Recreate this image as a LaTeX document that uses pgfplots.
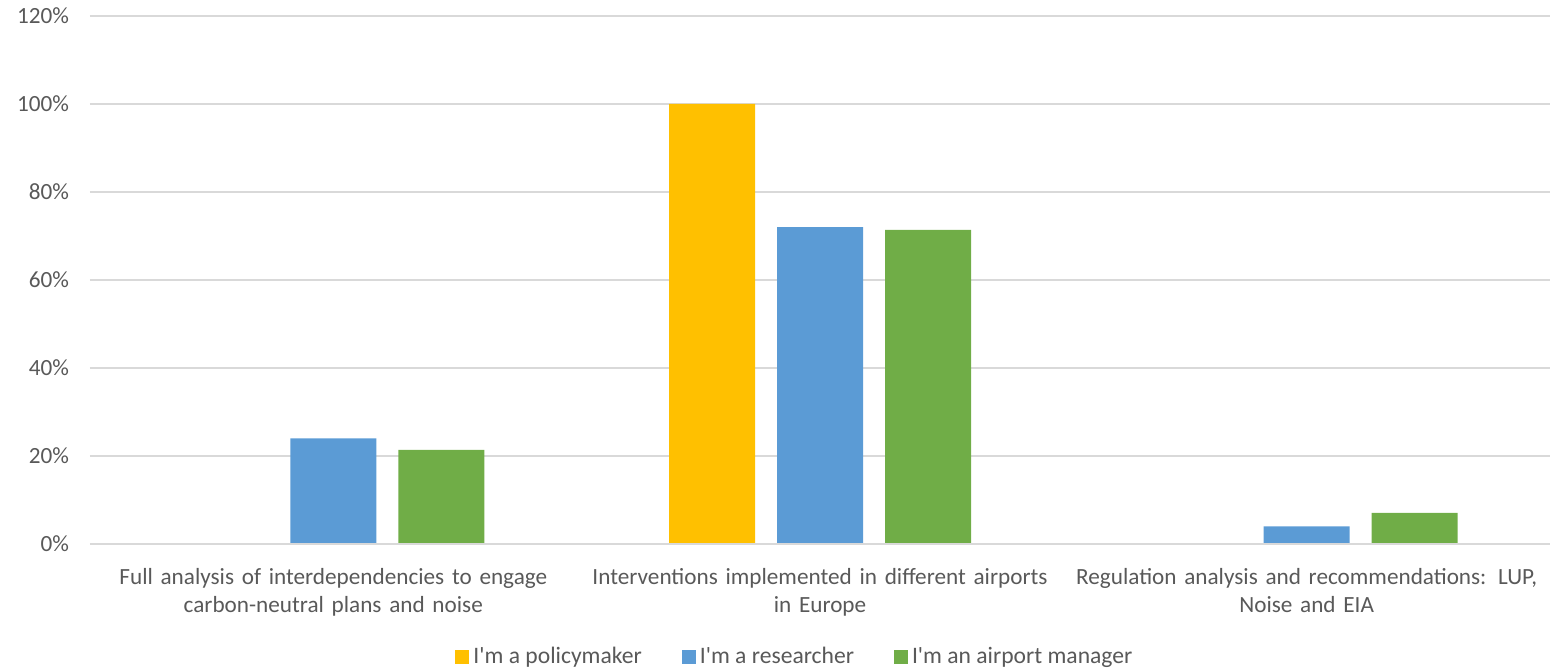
\documentclass[border=0pt]{standalone}
\usepackage{pgfplots}
\pgfplotsset{compat=1.18}
\usepackage{fontspec}
\setmainfont{Carlito}[Ligatures=TeXOff]
\definecolor{cY}{HTML}{FFC000}
\definecolor{cB}{HTML}{5B9BD5}
\definecolor{cG}{HTML}{70AD47}
\definecolor{txt}{HTML}{595959}
\definecolor{grd}{HTML}{D9D9D9}
\begin{document}
\begin{tikzpicture}
\path[use as bounding box] (-45pt,-63pt) rectangle (730pt,272pt);
\begin{axis}[
  at={(0,0)}, anchor=south west,
  scale only axis, width=730pt, height=264pt,
  ybar=11pt, bar width=43pt,
  xmin=-0.5, xmax=2.5, ymin=0, ymax=120,
  xtick=data,
  xticklabels={{Full analysis of interdependencies to engage\\carbon-neutral plans and noise},{Interventions implemented in different airports\\in Europe},{Regulation analysis and recommendations: LUP,\\Noise and EIA}},
  xticklabel style={align=center, text width=260pt, font=\fontsize{11.6}{14}\selectfont, text=txt, yshift=-8.5pt},
  ytick={0,20,40,60,80,100,120},
  yticklabel={\pgfmathprintnumber{\tick}\%},
  yticklabel style={font=\fontsize{11.6}{13}\selectfont, text=txt, xshift=-7pt},
  /pgf/number format/assume math mode=true,
  major tick length=0pt,
  axis line style={draw=none},
  ymajorgrids, grid style={grd, line width=0.6pt},
  legend style={at={(0.4835,-0.214)}, anchor=center, draw=none, legend columns=-1,
    font=\fontsize{11.8}{13}\selectfont, text=txt,
    /tikz/every even column/.append style={column sep=18pt}},
  legend image code/.code={\fill[#1] (0pt,-3.5pt) rectangle (7pt,3.5pt);},
  legend cell align=left,
]
\addplot[fill=cY, draw=none] coordinates {(0,0) (1,100) (2,0)};
\addplot[fill=cB, draw=none] coordinates {(0,24) (1,72) (2,4)};
\addplot[fill=cG, draw=none] coordinates {(0,21.4) (1,71.4) (2,7.1)};
\legend{I'm a policymaker, I'm a researcher, I'm an airport manager}
\draw[grd, line width=0.6pt] (axis cs:-0.5,0) -- (axis cs:2.5,0);
\end{axis}
\end{tikzpicture}
\end{document}
